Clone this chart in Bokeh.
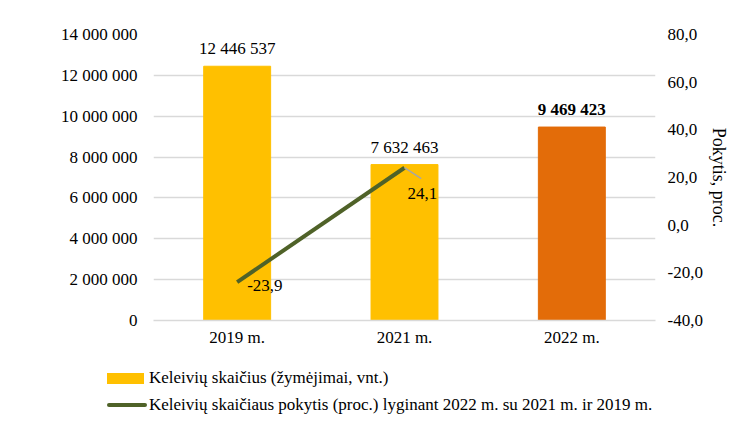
from bokeh.plotting import figure
from bokeh.layouts import column
from bokeh.models import (ColumnDataSource, Range1d, LinearAxis, CustomJSTickFormatter,
                          LabelSet, FixedTicker, Div)
from bokeh.core.properties import value
from bokeh.embed import file_html
from bokeh.resources import INLINE

# ---- data ----
years = ["2019 m.", "2021 m.", "2022 m."]
passengers = [12446537, 7632463, 9469423]
passenger_labels = ["12 446 537", "7 632 463", "9 469 423"]
bar_colors = ["#FFC000", "#FFC000", "#E36C09"]
change_years = ["2019 m.", "2021 m."]
change_pct = [-23.9, 24.1]
change_labels = ["-23,9", "24,1"]
left_ticks = [0, 2000000, 4000000, 6000000, 8000000, 10000000, 12000000, 14000000]
right_ticks = [-40, -20, 0, 20, 40, 60, 80]
legend_labels = ["Keleivių skaičius (žymėjimai, vnt.)",
                 "Keleivių skaičiaus pokytis (proc.) lyginant 2022 m. su 2021 m. ir 2019 m."]
LINE_COLOR = "#4F6228"

FONT = "Liberation Serif"
FS = "17px"
W = 731

p = figure(x_range=years, y_range=Range1d(0, 14000000), width=W, height=360,
           output_backend="svg", toolbar_location=None,
           min_border_left=153, min_border_right=68, min_border_top=34, min_border_bottom=40)
p.extra_y_ranges = {"pct": Range1d(-40, 80)}

p.outline_line_color = None
p.background_fill_color = "white"
p.border_fill_color = "white"

p.xgrid.grid_line_color = None
p.ygrid.grid_line_color = "#D9D9D9"
p.ygrid.grid_line_width = 1.3

src = ColumnDataSource(dict(x=years, top=passengers, color=bar_colors,
                            lab=passenger_labels,
                            style=["normal", "normal", "bold"]))
bars = p.vbar(x="x", top="top", width=0.4, color="color", source=src)

lsrc = ColumnDataSource(dict(x=change_years, y=change_pct, lab=change_labels))
line = p.line(x="x", y="y", source=lsrc, y_range_name="pct", line_color=LINE_COLOR, line_width=4)

# leader line from the 2021 point to its label
i21 = years.index(change_years[1]) + 0.5
p.segment(x0=[i21], y0=[change_pct[1]], x1=[i21 + 0.1], y1=[change_pct[1] - 4.6],
          y_range_name="pct", line_color="#A6A6A6", line_width=1.5)

p.add_layout(LabelSet(x="x", y="top", text="lab", source=src, text_font=value(FONT),
                      text_font_size=FS, text_color="#000000", text_align="center",
                      text_baseline="bottom", y_offset=8, text_font_style="style"))

lab1 = ColumnDataSource(dict(x=[change_years[0]], y=[change_pct[0]], lab=[change_labels[0]]))
p.add_layout(LabelSet(x="x", y="y", text="lab", source=lab1, y_range_name="pct",
                      text_font=value(FONT), text_font_size=FS, text_color="#000000",
                      text_align="left", text_baseline="middle", x_offset=10, y_offset=-3))
lab2 = ColumnDataSource(dict(x=[change_years[1]], y=[change_pct[1]], lab=[change_labels[1]]))
p.add_layout(LabelSet(x="x", y="y", text="lab", source=lab2, y_range_name="pct",
                      text_font=value(FONT), text_font_size=FS, text_color="#000000",
                      text_align="left", text_baseline="middle", x_offset=3, y_offset=-26))

p.yaxis.formatter = CustomJSTickFormatter(code="return tick.toFixed(0).replace(/\\B(?=(\\d{3})+(?!\\d))/g, ' ');")
p.yaxis.ticker = FixedTicker(ticks=left_ticks)
ax2 = LinearAxis(y_range_name="pct", axis_label="Pokytis, proc.",
                 ticker=FixedTicker(ticks=right_ticks),
                 formatter=CustomJSTickFormatter(code="return tick.toFixed(1).replace('.', ',');"))
p.add_layout(ax2, "right")

for ax in [p.yaxis[0], ax2, p.xaxis[0]]:
    ax.axis_line_color = None
    ax.major_tick_line_color = None
    ax.minor_tick_line_color = None
    ax.major_tick_out = 0
    ax.major_tick_in = 0
    ax.minor_tick_out = 0
    ax.major_label_text_font = FONT
    ax.major_label_text_font_size = FS
    ax.major_label_text_color = "#000000"
p.yaxis[0].major_label_standoff = 16
ax2.major_label_standoff = 12
ax2.axis_label_text_font = FONT
ax2.axis_label_text_font_size = "18px"
ax2.axis_label_text_font_style = "normal"
ax2.axis_label_text_color = "#000000"
ax2.axis_label_standoff = 3
ax2.axis_label_orientation = "vertical"
p.xaxis.axis_line_color = "#D9D9D9"
p.xaxis.axis_line_width = 1.3
p.xaxis.major_label_standoff = 7

# legend below the chart (HTML, real text)
row_style = ("position:absolute;left:107px;height:20px;line-height:20px;white-space:nowrap;"
             "display:flex;align-items:center;")
html = (
    f"<div style=\"position:relative;width:{W}px;height:52px;overflow:visible;font-family:'{FONT}';"
    f"font-size:{FS};color:#000000;\">"
    f"<div style=\"{row_style}top:8px;\">"
    f"<span style=\"display:inline-block;width:37px;height:11px;background:{bar_colors[0]};"
    f"margin-right:5px;\"></span><span>{legend_labels[0]}</span></div>"
    f"<div style=\"{row_style}top:35px;\">"
    f"<span style=\"display:inline-block;width:40px;height:4px;border-radius:2px;background:{LINE_COLOR};"
    f"margin-right:2px;\"></span><span>{legend_labels[1]}</span></div>"
    "</div>"
)
leg = Div(text=html, width=W, height=52, margin=0, styles={"overflow": "visible"})

p.margin = 0
layout = column(p, leg, spacing=0)
open("out.html", "w").write(file_html(layout, INLINE))
